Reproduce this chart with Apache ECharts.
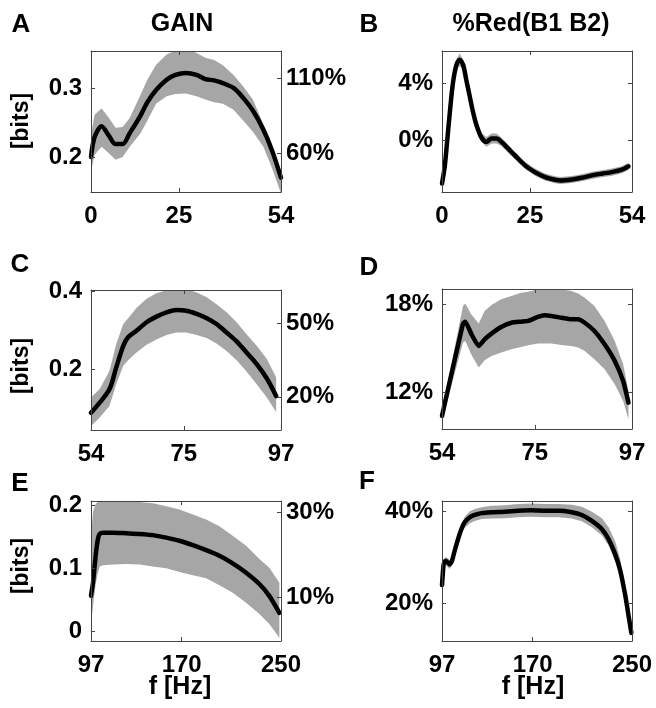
<!DOCTYPE html>
<html>
<head>
<meta charset="utf-8">
<script src="https://cdn.jsdelivr.net/npm/echarts@6/dist/echarts.min.js"></script>
<style>
  html, body { margin: 0; padding: 0; background: #fff; }
  #chart { width: 656px; height: 708px; }
</style>
</head>
<body>
<div id="chart"></div>
<script>
// ---- data ----
// A: GAIN, 0-54 Hz  [bits]
const freqA = [0, 1, 3, 5, 7, 9, 11, 14, 16, 18.5, 21.5, 24, 27, 30, 32.5, 35, 37.5, 40.5, 43, 46, 49, 51.5, 54];
const meanA = [0.200, 0.229, 0.245, 0.232, 0.219, 0.219, 0.235, 0.260, 0.280, 0.298, 0.313, 0.320, 0.323, 0.320, 0.314, 0.312, 0.308, 0.301, 0.288, 0.268, 0.240, 0.209, 0.170];
const upA = [0.232, 0.262, 0.271, 0.258, 0.243, 0.244, 0.257, 0.290, 0.313, 0.335, 0.350, 0.356, 0.359, 0.352, 0.345, 0.342, 0.334, 0.320, 0.305, 0.284, 0.248, 0.217, 0.180];
const loA = [0.179, 0.203, 0.215, 0.206, 0.196, 0.200, 0.215, 0.234, 0.253, 0.278, 0.289, 0.292, 0.293, 0.289, 0.284, 0.280, 0.278, 0.269, 0.255, 0.237, 0.215, 0.183, 0.147];

// B: %Red(B1 B2), 0-54 Hz  [%]
const freqB = [0, 0.76, 1.5, 2.2, 3.1, 4.1, 5.0, 6.0, 6.9, 7.9, 8.8, 9.8, 11.2, 12.6, 14.1, 15.5, 16.9, 18.8, 20.7, 23.6, 26.4, 29.3, 32.1, 33.6, 36.9, 39.7, 42.6, 45.4, 48.3, 51.1, 53.0];
const meanB = [-3.1, -1.93, 0.0, 1.88, 4.02, 5.33, 5.69, 5.33, 4.26, 3.07, 2.0, 1.05, 0.17, -0.14, 0.10, 0.10, -0.14, -0.62, -1.10, -1.81, -2.29, -2.64, -2.83, -2.88, -2.81, -2.69, -2.52, -2.40, -2.29, -2.12, -1.88];
const upB = [-2.95, -1.73, 0.2, 2.13, 4.32, 5.68, 6.14, 5.73, 4.56, 3.32, 2.25, 1.30, 0.47, 0.21, 0.45, 0.45, 0.16, -0.32, -0.85, -1.56, -2.04, -2.39, -2.58, -2.63, -2.56, -2.44, -2.27, -2.15, -2.04, -1.87, -1.63];
const loB = [-3.25, -2.13, -0.2, 1.63, 3.72, 4.98, 5.24, 4.93, 3.96, 2.82, 1.75, 0.80, -0.13, -0.49, -0.25, -0.25, -0.44, -0.92, -1.35, -2.06, -2.54, -2.89, -3.08, -3.13, -3.06, -2.94, -2.77, -2.65, -2.54, -2.37, -2.13];

// C: GAIN, 54-97 Hz
const freqC = [54.0, 55.97, 58.2, 59.7, 61.3, 62.4, 64.3, 66.5, 68.8, 71.1, 73.3, 75.6, 77.9, 80.2, 82.4, 84.7, 87.0, 89.2, 91.5, 93.8, 95.9];
const meanC = [0.088, 0.114, 0.149, 0.204, 0.260, 0.282, 0.299, 0.320, 0.335, 0.346, 0.352, 0.350, 0.342, 0.331, 0.316, 0.294, 0.271, 0.243, 0.213, 0.176, 0.131];
const upC = [0.127, 0.149, 0.196, 0.264, 0.316, 0.331, 0.357, 0.380, 0.395, 0.403, 0.409, 0.406, 0.397, 0.385, 0.367, 0.346, 0.320, 0.290, 0.260, 0.226, 0.179];
const loC = [0.054, 0.076, 0.106, 0.161, 0.209, 0.223, 0.243, 0.262, 0.276, 0.288, 0.294, 0.294, 0.288, 0.280, 0.266, 0.247, 0.222, 0.194, 0.161, 0.127, 0.090];

// D: %Red, 54-97 Hz
const freqD = [54.0, 58.75, 59.28, 60.6, 62.3, 63.65, 65.2, 67.4, 69.7, 71.9, 73.5, 75.7, 77.2, 78.7, 81.0, 83.3, 84.8, 86.3, 88.5, 90.8, 93.1, 95.0, 96.2];
const meanD = [10.42, 16.69, 16.82, 16.01, 15.17, 15.62, 16.01, 16.46, 16.75, 16.82, 16.87, 17.14, 17.25, 17.21, 17.09, 16.98, 16.98, 16.75, 16.19, 15.28, 14.15, 12.79, 11.32];
const upD = [10.76, 17.89, 18.05, 17.32, 16.69, 17.55, 17.95, 18.34, 18.57, 18.79, 18.86, 19.02, 19.09, 19.09, 19.02, 18.91, 18.73, 18.45, 17.89, 16.87, 15.51, 13.92, 12.11];
const loD = [10.08, 15.40, 15.51, 14.60, 13.70, 14.20, 14.49, 14.72, 14.94, 15.10, 15.22, 15.33, 15.33, 15.33, 15.24, 15.17, 15.06, 14.83, 14.26, 13.59, 12.57, 11.43, 10.19];

// E: GAIN, 97-250 Hz
const freqE = [97, 98.6, 100.75, 102.6, 104.0, 106.6, 114.7, 125.4, 136.1, 146.8, 157.6, 168.3, 179.0, 189.7, 200.4, 211.1, 221.9, 232.6, 240.6, 248.7];
const meanE = [0.056, 0.077, 0.120, 0.147, 0.155, 0.157, 0.157, 0.156, 0.155, 0.153, 0.149, 0.144, 0.137, 0.129, 0.120, 0.108, 0.093, 0.075, 0.056, 0.029];
const upE = [0.150, 0.190, 0.203, 0.206, 0.207, 0.208, 0.208, 0.208, 0.206, 0.204, 0.199, 0.194, 0.186, 0.178, 0.167, 0.152, 0.136, 0.115, 0.101, 0.077];
const loE = [0.008, 0.040, 0.075, 0.093, 0.103, 0.105, 0.106, 0.107, 0.106, 0.103, 0.100, 0.094, 0.089, 0.084, 0.073, 0.061, 0.045, 0.027, 0.011, -0.011];

// F: %Red, 97-250 Hz
const freqF = [97.0, 98.3, 99.7, 101.8, 103.2, 105.1, 107.2, 109.9, 112.6, 115.3, 119.4, 123.4, 128.8, 136.9, 147.6, 158.4, 169.2, 180.0, 190.7, 201.5, 209.6, 217.7, 225.8, 231.2, 236.5, 240.6, 244.7, 247.3, 249.5];
const meanF = [24.0, 28.5, 29.3, 28.9, 28.5, 29.3, 31.5, 34.0, 36.2, 37.7, 38.8, 39.3, 39.7, 39.9, 40.0, 40.2, 40.3, 40.2, 40.2, 39.9, 39.3, 38.0, 36.2, 34.0, 30.7, 27.1, 21.6, 17.2, 13.6];
const upF = [24.6, 29.3, 30.1, 29.9, 29.5, 30.1, 32.5, 35.0, 37.4, 38.9, 40.1, 40.6, 41.0, 41.3, 41.4, 41.7, 41.8, 41.7, 41.7, 41.5, 41.1, 40.0, 38.6, 36.6, 33.5, 29.6, 23.6, 18.7, 14.6];
const loF = [23.4, 27.7, 28.5, 27.9, 27.5, 28.5, 30.5, 33.0, 35.2, 36.5, 37.5, 38.0, 38.4, 38.5, 38.6, 38.8, 38.9, 38.8, 38.8, 38.5, 37.9, 36.6, 34.8, 32.6, 29.2, 25.6, 20.1, 15.9, 12.6];

// tick labels
const xTicksLow = [0, 25, 54];
const xTicksMid = [54, 75, 97];
const xTicksHigh = [97, 170, 250];
const yTicksA = [0.2, 0.3], rTicksA = [60, 110];
const yTicksB = [0, 4];
const yTicksC = [0.2, 0.4], rTicksC = [20, 50];
const yTicksD = [12, 18];
const yTicksE = [0, 0.1, 0.2], rTicksE = [10, 30];
const yTicksF = [20, 40];

// ---- drawing ----
const FONT = '"Liberation Sans", Arial, Helvetica, sans-serif';
const INK = '#000';
const FRAME = '#444';
const BAND = '#a6a6a6';

const panels = [
  { freq: freqA, mean: meanA, up: upA, lo: loA, smooth: 0.3,
    box: { left: 91, top: 51, width: 190, height: 141 },
    x: [0, 54], xTicks: xTicksLow, y: [0.149, 0.355], yTicks: yTicksA, pct: false,
    right: { range: [34.2, 128.2], ticks: rTicksA } },
  { freq: freqB, mean: meanB, up: upB, lo: loB, smooth: 0.3,
    box: { left: 442, top: 51, width: 190, height: 141 },
    x: [0, 54], xTicks: xTicksLow, y: [-3.7, 6.31], yTicks: yTicksB, pct: true },
  { freq: freqC, mean: meanC, up: upC, lo: loC, smooth: 0.3,
    box: { left: 91, top: 290, width: 190, height: 140 },
    x: [54, 97], xTicks: xTicksMid, y: [0.0438, 0.4034], yTicks: yTicksC, pct: false,
    right: { range: [6.5, 63.5], ticks: rTicksC } },
  { freq: freqD, mean: meanD, up: upD, lo: loD, smooth: 0.15,
    box: { left: 442, top: 289, width: 190, height: 140 },
    x: [54, 97], xTicks: xTicksMid, y: [9.53, 19.04], yTicks: yTicksD, pct: true },
  { freq: freqE, mean: meanE, up: upE, lo: loE, smooth: 0.2,
    box: { left: 91, top: 501, width: 190, height: 140 },
    x: [97, 250], xTicks: xTicksHigh, y: [-0.016, 0.2075], yTicks: yTicksE, pct: false,
    right: { range: [-0.35, 32.7], ticks: rTicksE } },
  { freq: freqF, mean: meanF, up: upF, lo: loF, smooth: 0.15,
    box: { left: 442, top: 501, width: 190, height: 140 },
    x: [97, 250], xTicks: xTicksHigh, y: [11.82, 42.34], yTicks: yTicksF, pct: true }
];

const labelStyle = { color: INK, fontFamily: FONT, fontWeight: 'bold', fontSize: 24 };
const tickStyle = { show: true, inside: true, length: 4, lineStyle: { color: FRAME, width: 1 } };
const frameLine = { show: true, onZero: false, lineStyle: { color: FRAME, width: 1 } };

const grid = [], xAxis = [], yAxis = [], series = [];

function bandRenderer(freq, up, lo) {
  return function (params, api) {
    const pts = [];
    for (let i = 0; i < freq.length; i++) pts.push(api.coord([freq[i], up[i]]));
    for (let i = freq.length - 1; i >= 0; i--) pts.push(api.coord([freq[i], lo[i]]));
    return { type: 'polygon', shape: { points: pts }, style: { fill: BAND } };
  };
}

panels.forEach((p, gi) => {
  grid.push(Object.assign({}, p.box));

  const xi = xAxis.length;
  xAxis.push({
    type: 'value', gridIndex: gi, min: p.x[0], max: p.x[1], z: 5,
    axisLine: frameLine, splitLine: { show: false },
    axisTick: Object.assign({ customValues: p.xTicks }, tickStyle),
    axisLabel: Object.assign({ customValues: p.xTicks, margin: 12 }, labelStyle)
  });
  // top edge of the box, with mirrored ticks
  xAxis.push({
    type: 'value', gridIndex: gi, position: 'top', min: p.x[0], max: p.x[1], z: 5,
    axisLine: frameLine, splitLine: { show: false }, axisLabel: { show: false },
    axisTick: Object.assign({ customValues: p.xTicks }, tickStyle)
  });

  const yi = yAxis.length;
  yAxis.push({
    type: 'value', gridIndex: gi, min: p.y[0], max: p.y[1], z: 5,
    axisLine: frameLine, splitLine: { show: false },
    axisTick: Object.assign({ customValues: p.yTicks }, tickStyle),
    axisLabel: Object.assign({
      customValues: p.yTicks, margin: 9,
      formatter: p.pct ? '{value}%' : (v => String(+v.toFixed(2)))
    }, labelStyle)
  });
  if (p.right) {
    yAxis.push({
      type: 'value', gridIndex: gi, position: 'right', min: p.right.range[0], max: p.right.range[1], z: 5,
      axisLine: frameLine, splitLine: { show: false },
      axisTick: Object.assign({ customValues: p.right.ticks }, tickStyle),
      axisLabel: Object.assign({ customValues: p.right.ticks, margin: 5, formatter: '{value}%' }, labelStyle)
    });
  } else {
    yAxis.push({
      type: 'value', gridIndex: gi, position: 'right', min: p.y[0], max: p.y[1], z: 5,
      axisLine: frameLine, splitLine: { show: false }, axisLabel: { show: false },
      axisTick: Object.assign({ customValues: p.yTicks }, tickStyle)
    });
  }

  series.push({
    type: 'custom', xAxisIndex: xi, yAxisIndex: yi, clip: true, silent: true, z: 1,
    renderItem: bandRenderer(p.freq, p.up, p.lo),
    data: [[p.freq[0], p.mean[0]]]
  });
  series.push({
    type: 'line', xAxisIndex: xi, yAxisIndex: yi, z: 2, clip: true,
    showSymbol: false, smooth: p.smooth, silent: true,
    lineStyle: { color: INK, width: 4.5, join: 'round', cap: 'round' },
    data: p.freq.map((f, i) => [f, p.mean[i]])
  });
});

function txt(text, x, y, size, rot) {
  return {
    type: 'text', x: x, y: y, rotation: rot || 0, silent: true,
    style: {
      text: text, x: 0, y: 0, fill: INK,
      font: 'bold ' + size + 'px ' + FONT,
      align: 'center', verticalAlign: 'middle',
      textAlign: 'center', textVerticalAlign: 'middle'
    }
  };
}

const graphic = [
  txt('A', 21, 25, 26), txt('B', 369, 25, 26),
  txt('C', 20, 265, 26), txt('D', 369, 268, 26),
  txt('E', 20, 484, 26), txt('F', 367, 482, 26),
  txt('GAIN', 182, 24, 25), txt('%Red(B1 B2)', 531, 24, 25),
  txt('[bits]', 22, 121, 23, Math.PI / 2),
  txt('[bits]', 22, 366, 23, Math.PI / 2),
  txt('[bits]', 22, 566, 23, Math.PI / 2),
  txt('f [Hz]', 180, 687, 25), txt('f [Hz]', 533, 687, 25)
];

const chart = echarts.init(document.getElementById('chart'));
chart.setOption({
  animation: false,
  backgroundColor: '#fff',
  grid: grid,
  xAxis: xAxis,
  yAxis: yAxis,
  series: series,
  graphic: graphic
});
</script>
</body>
</html>
